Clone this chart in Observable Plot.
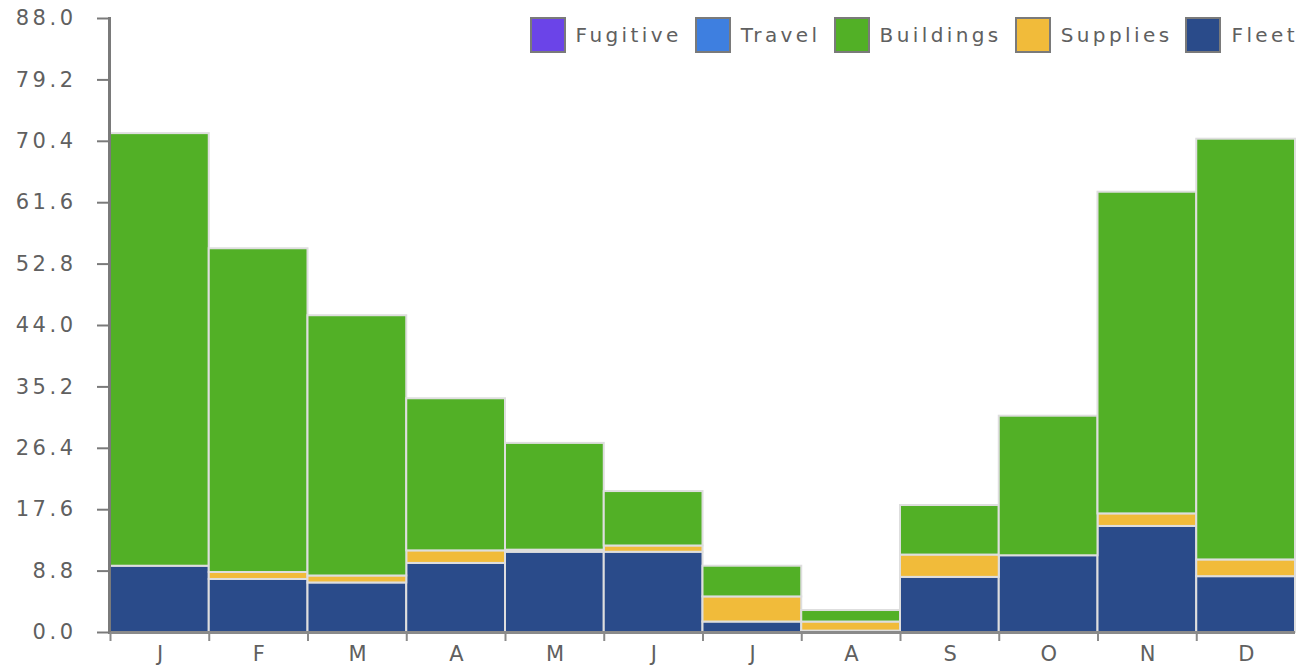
<!DOCTYPE html>
<html>
<head>
<meta charset="utf-8">
<script src="https://cdn.jsdelivr.net/npm/d3@7"></script>
<script src="https://cdn.jsdelivr.net/npm/@observablehq/plot@0.6"></script>
<style>
  html, body { margin: 0; padding: 0; background: #fff; }
  #wrap { position: relative; width: 1311px; height: 669px; }
  #legend { position: absolute; top: 17px; right: 13px; display: flex; align-items: center;
    font-family: "DejaVu Sans", sans-serif; font-size: 20px; letter-spacing: 3.4px; color: #606060; }
  .item { display: flex; align-items: center; margin-left: 13px; }
  .sw { width: 32px; height: 32px; border: 2px solid #7a7a7a; margin-right: 10px; box-sizing: content-box; }
</style>
</head>
<body>
<div id="wrap"><div id="chart"></div><div id="legend"></div></div>
<script>
const months = ["Jan","Feb","Mar","Apr","May","Jun","Jul","Aug","Sep","Oct","Nov","Dec"];
const monthLabels = ["J","F","M","A","M","J","J","A","S","O","N","D"];
const seriesNames = ["Fugitive","Travel","Buildings","Supplies","Fleet"];
const seriesColors = ["#6b44e8","#3e7fe0","#52b026","#f1bb3a","#2a4b8a"];
const stackOrder = ["Fleet","Supplies","Buildings","Travel","Fugitive"];
const yTicks = [0, 8.8, 17.6, 26.4, 35.2, 44.0, 52.8, 61.6, 70.4, 79.2, 88.0];

const fleet     = [9.5, 7.6, 7.1, 9.9, 11.5, 11.5, 1.5, 0.2, 7.9, 11.0, 15.2, 8.0];
const supplies  = [0.0, 1.0, 1.0, 1.8, 0.3, 0.9, 3.6, 1.3, 3.2, 0.0, 1.8, 2.4];
const buildings = [62.0, 46.4, 37.3, 21.8, 15.3, 7.8, 4.4, 1.65, 7.1, 20.0, 46.1, 60.3];
const travel    = [0, 0, 0, 0, 0, 0, 0, 0, 0, 0, 0, 0];
const fugitive  = [0, 0, 0, 0, 0, 0, 0, 0, 0, 0, 0, 0];

const seriesValues = {Fleet: fleet, Supplies: supplies, Buildings: buildings, Travel: travel, Fugitive: fugitive};
const data = [];
for (const s of stackOrder) {
  seriesValues[s].forEach((v, i) => { if (v > 0) data.push({month: months[i], series: s, value: v}); });
}

const band = (1311 - 110 - 16) / months.length;

const chart = Plot.plot({
  width: 1311,
  height: 669,
  marginLeft: 110,
  marginRight: 16,
  marginTop: 18,
  marginBottom: 37,
  style: "font-family: 'DejaVu Sans', sans-serif; font-size: 21px; background: #fff; letter-spacing: 3.5px;",
  x: {domain: months, padding: 0, round: false, axis: null, label: null},
  y: {domain: [0, 88], axis: null, label: null},
  color: {domain: seriesNames, range: seriesColors},
  marks: [
    Plot.barY(data, {x: "month", y: "value", fill: "series", order: stackOrder,
      stroke: "#dedede", strokeWidth: 2}),
    Plot.ruleY([0], {stroke: "#8a8a8a", strokeWidth: 3}),
    Plot.frame({anchor: "left", stroke: "#7a7a7a", strokeWidth: 3, dx: -1}),
    Plot.axisY({ticks: yTicks, tickFormat: d => d.toFixed(1), tickSize: 12, tickPadding: 21, label: null,
      stroke: "#7a7a7a", fill: "#606060", strokeWidth: 2, dx: -1}),
    Plot.axisX({ticks: months, tickSize: 9, tickFormat: () => "", label: null, stroke: "#8a8a8a", strokeWidth: 2, dx: -band / 2}),
    Plot.axisX({ticks: months, tickSize: 0, tickPadding: 14, fill: "#606060", label: null, dx: 2,
      tickFormat: d => monthLabels[months.indexOf(d)]})
  ]
});
document.getElementById("chart").appendChild(chart);

const legend = document.getElementById("legend");
seriesNames.forEach((s, i) => {
  const it = document.createElement("div");
  it.className = "item";
  const sw = document.createElement("div");
  sw.className = "sw";
  sw.style.background = seriesColors[i];
  const t = document.createElement("span");
  t.textContent = s;
  it.appendChild(sw); it.appendChild(t);
  legend.appendChild(it);
});
</script>
</body>
</html>
